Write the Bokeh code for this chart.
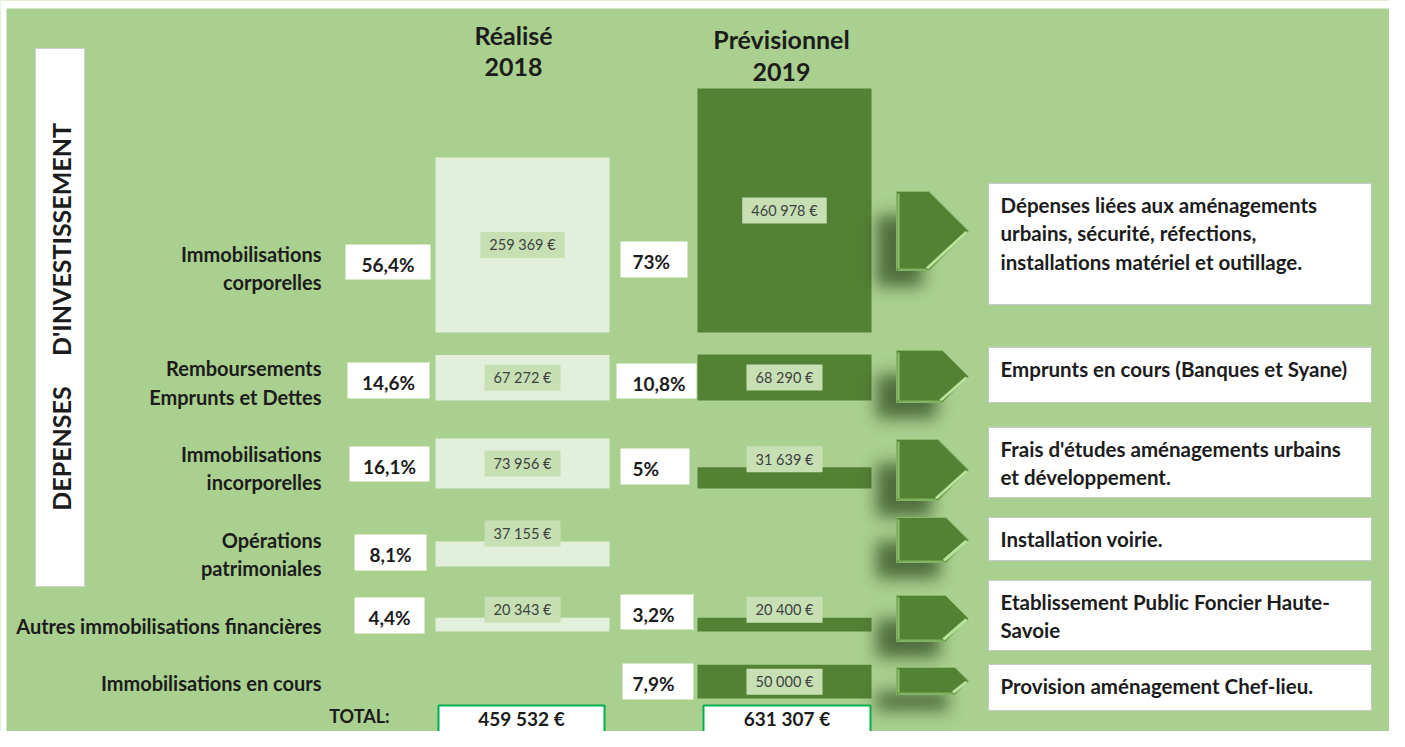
import numpy as np
from bokeh.plotting import figure
from bokeh.models import Range1d
from bokeh.core.properties import value
from bokeh.embed import file_html
from bokeh.resources import INLINE

# ---------------- data ----------------
categories = [
    "Immobilisations\ncorporelles",
    "Remboursements\nEmprunts et Dettes",
    "Immobilisations\nincorporelles",
    "Opérations\npatrimoniales",
    "Autres immobilisations financières",
    "Immobilisations en cours",
]
realise_2018 = [259369, 67272, 73956, 37155, 20343, None]
previsionnel_2019 = [460978, 68290, 31639, None, 20400, 50000]
pct_2018 = ["56,4%", "14,6%", "16,1%", "8,1%", "4,4%", None]
pct_2019 = ["73%", "10,8%", "5%", None, "3,2%", "7,9%"]
descriptions = [
    "Dépenses liées aux aménagements\nurbains, sécurité, réfections,\ninstallations matériel et outillage.",
    "Emprunts en cours (Banques et Syane)",
    "Frais d'études aménagements urbains\net développement.",
    "Installation voirie.",
    "Etablissement Public Foncier Haute-\nSavoie",
    "Provision aménagement Chef-lieu.",
]
totals = [459532, 631307]
column_titles = ["Réalisé\n2018", "Prévisionnel\n2019"]
side_title = ["DEPENSES", "D'INVESTISSEMENT"]
total_label = "TOTAL:"

# ---------------- styles / layout ----------------
BG = "#a9d08e"
LIGHT = "#e2efda"
DARK = "#548235"
LABEL_BOX = "#c6e0b4"
TXT = "#1c1c1c"
VAL_TXT = "#404040"
FONT = value("Lato")

W, H = 1389, 731

baseline = [332, 400, 488, 566, 631, 698]
K = 0.000675          # px per euro
MAXH = 244            # tallest bar is clipped to this height, as in the original
cols = [(435, 609), (697, 871)]
label_y = [267.5, 382, 467.5, 553.5, 625, 682]
LINE = 28.5

pct18_lr = [(345, 430), (347, 429), (349, 429), (354, 426), (354, 424), None]
pct18_tb = [(244, 279), (362, 398), (446, 481), (534, 570), (597, 633), None]
pct19_lr = [(620, 687), (616, 696), (620, 689), None, (620, 693), (622, 693)]
pct19_tb = [(241, 277), (363, 398), (448, 484), None, (594, 629), (663, 699)]

arrow_tb = [(191, 270), (350, 402), (439, 500), (517, 562), (595, 641), (667, 694)]
ARX0, ARX1 = 896, 968

desc_tb = [(183, 304), (347, 402), (427, 497), (517, 560), (580, 650), (664, 710)]
DESC_L, DESC_R = 988, 1371

p = figure(width=W, height=H, x_range=Range1d(0, W), y_range=Range1d(H, 0),
           output_backend="svg", toolbar_location=None, min_border=0,
           x_axis_type=None, y_axis_type=None,
           background_fill_color=BG, border_fill_color=BG, outline_line_color=None)
p.grid.visible = False


def fmt(v):
    return f"{v:,}".replace(",", " ") + " €"


# white page strips of the original screenshot
p.quad(left=0, right=W, top=0, bottom=8, fill_color="white", line_color=None)
p.quad(left=0, right=6, top=0, bottom=H, fill_color="white", line_color=None)

# side title box
p.quad(left=35, right=84, top=48, bottom=586, fill_color="white", line_color="#d0d0d0", line_width=1)
p.text(x=[60, 60], y=[448, 239], text=side_title, angle=np.pi / 2, text_font=FONT,
       text_font_style="bold", text_font_size="25px", text_align="center",
       text_baseline="middle", text_color=TXT)

# column titles
for cx, t, yy in zip([513, 781], column_titles, [(34, 66), (38, 71)]):
    for line, y in zip(t.split("\n"), yy):
        p.text(x=[cx], y=[y], text=[line], text_font=FONT, text_font_style="bold",
               text_font_size="25px", text_align="center", text_baseline="middle", text_color=TXT)

# category labels
for cat, cy in zip(categories, label_y):
    lines = cat.split("\n")
    n = len(lines)
    for i, line in enumerate(lines):
        y = cy + (i - (n - 1) / 2) * LINE
        p.text(x=[321], y=[y], text=[line], text_font=FONT, text_font_style="bold",
               text_font_size="20px", text_align="right", text_baseline="middle", text_color=TXT)

# bars
label_items = []
for series, (l, r), color in zip([realise_2018, previsionnel_2019], cols, [LIGHT, DARK]):
    for v, base in zip(series, baseline):
        if v is None:
            continue
        h = min(v * K, MAXH)
        top = base - h
        p.quad(left=l, right=r, top=top, bottom=base, fill_color=color, line_color=None)
        cy = (top + base) / 2 if h >= 30 else top - 8
        label_items.append(((l + r) / 2, cy, fmt(v)))

# soft drop shadows behind the arrows (blurred mask rendered as an RGBA image)
SX0, SY0, SW, SH = 840, 150, 160, H - 150
mask = np.zeros((SH, SW))
for (t, b) in arrow_tb:
    notch = ARX1 - (b - t) / 2
    sl, sr = int(ARX0 - 20 - SX0), int(notch - 6 - SX0)
    st, sb = int(t + 24 - SY0), int(min(b + 16, H) - SY0)
    mask[st:sb, sl:sr] = 1.0
sig = 8.0
kx = np.arange(-27, 28)
ker = np.exp(-kx ** 2 / (2 * sig ** 2))
ker /= ker.sum()
blur = np.apply_along_axis(lambda r: np.convolve(r, ker, mode="same"), 1, mask)
blur = np.apply_along_axis(lambda c: np.convolve(c, ker, mode="same"), 0, blur)
alpha = np.clip(blur * 0.72, 0, 1)
img = np.zeros((SH, SW), dtype=np.uint32)
view = img.view(dtype=np.uint8).reshape((SH, SW, 4))
view[:, :, 0] = 0x2a
view[:, :, 1] = 0x45
view[:, :, 2] = 0x1c
view[:, :, 3] = (alpha * 255).astype(np.uint8)
p.image_rgba(image=[img], x=SX0, y=SY0, dw=SW, dh=SH)

# value labels
for cx, cy, txt in label_items:
    bw = 8 + 8.5 * len(txt)
    p.quad(left=cx - bw / 2, right=cx + bw / 2, top=cy - 13, bottom=cy + 13,
           fill_color=LABEL_BOX, line_color=None)
    p.text(x=[cx], y=[cy], text=[txt], text_font=FONT, text_font_size="14.5px",
           text_align="center", text_baseline="middle", text_color=VAL_TXT)

# percentage boxes
for pcts, lrs, tbs, align in [(pct_2018, pct18_lr, pct18_tb, "center"), (pct_2019, pct19_lr, pct19_tb, "left")]:
    for t, lr, tb in zip(pcts, lrs, tbs):
        if t is None:
            continue
        p.quad(left=lr[0], right=lr[1], top=tb[0], bottom=tb[1], fill_color="white", line_color=None)
        tx = (lr[0] + lr[1]) / 2 if align == "center" else 632
        p.text(x=[tx], y=[(tb[0] + tb[1]) / 2 + 2], text=[t], text_font=FONT, text_font_style="bold",
               text_font_size="19px", text_align=align, text_baseline="middle", text_color=TXT)

# arrows
for (t, b) in arrow_tb:
    h = b - t
    notch = ARX1 - h / 2
    mid = (t + b) / 2
    p.patch([ARX0, notch, ARX1, notch, ARX0], [t, t, mid, b, b], fill_color=DARK,
            line_color="#86b766", line_width=1)
    p.line([ARX0 + 2, ARX0 + 2], [t + 2, b - 2], line_color="#8fc46d", line_width=2)
    p.line([ARX1 - 2, notch - 2], [mid + 1, b - 2], line_color="#b7e39b", line_width=3)
    p.line([ARX0 + 2, notch - 2], [b - 1, b - 1], line_color="#7fb35f", line_width=2)

# description boxes
for d, (t, b) in zip(descriptions, desc_tb):
    p.quad(left=DESC_L, right=DESC_R, top=t, bottom=b, fill_color="white", line_color="#c8c8c8", line_width=1)
    for i, line in enumerate(d.split("\n")):
        p.text(x=[1000], y=[t + 21 + i * LINE], text=[line], text_font=FONT, text_font_style="bold",
               text_font_size="20.5px", text_align="left", text_baseline="middle", text_color=TXT)

# totals
for v, (l, r) in zip(totals, [(438, 604), (703, 870)]):
    p.quad(left=l, right=r, top=705, bottom=760, fill_color="white", line_color="#00b050", line_width=2)
    p.text(x=[(l + r) / 2], y=[718], text=[fmt(v)], text_font=FONT, text_font_style="bold",
           text_font_size="19px", text_align="center", text_baseline="middle", text_color=TXT)
p.text(x=[359], y=[715], text=[total_label], text_font=FONT, text_font_style="bold",
       text_font_size="18px", text_align="center", text_baseline="middle", text_color=TXT)

open("out.html", "w").write(file_html(p, INLINE))
